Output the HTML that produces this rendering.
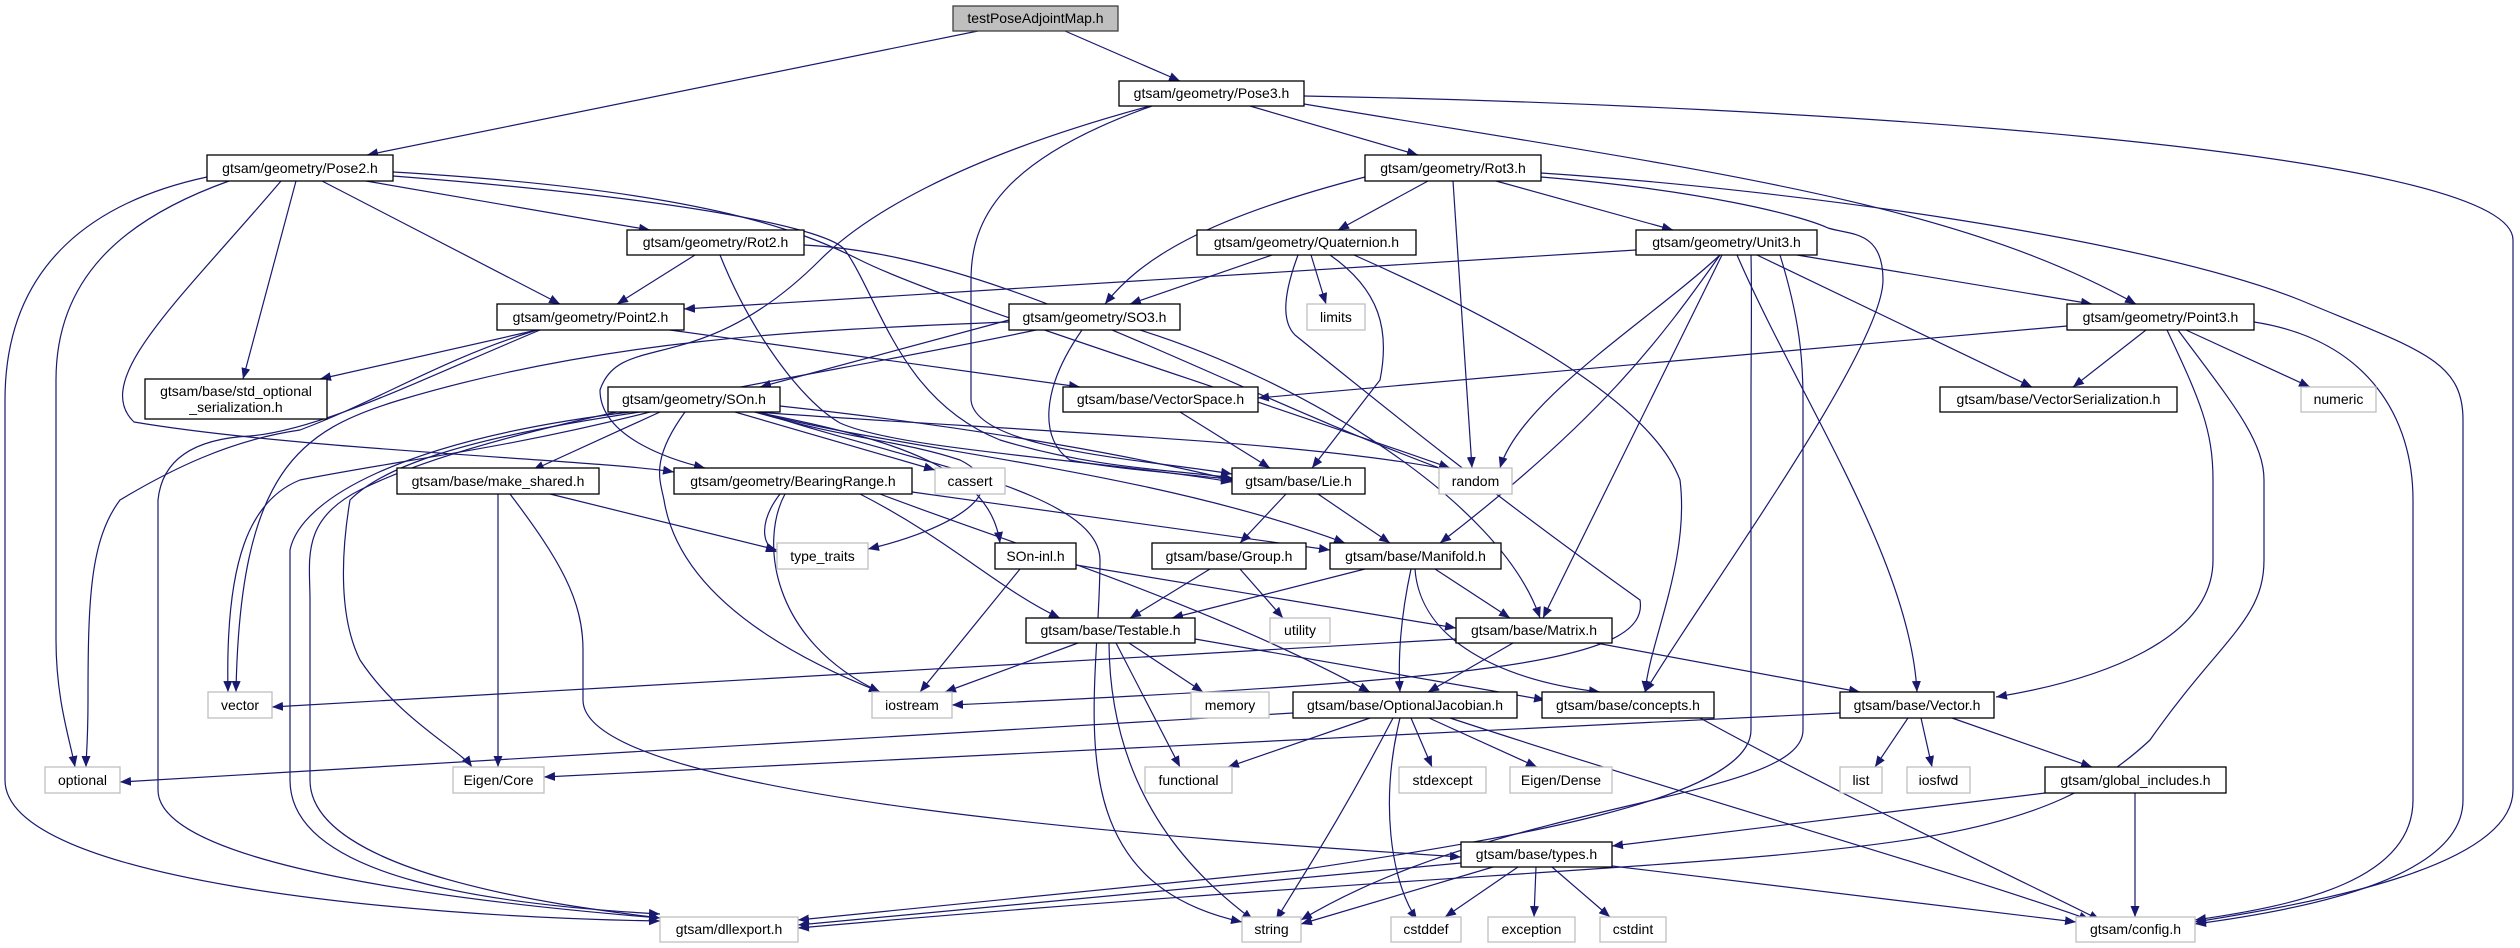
<!DOCTYPE html>
<html><head><meta charset="utf-8"><style>
html,body{margin:0;padding:0;background:#fff;}
svg{display:block;}
text{font-family:"Liberation Sans",sans-serif;font-size:14px;fill:#000;}
.n{fill:#fff;stroke:#000;stroke-width:1.3;}
.g{fill:#fff;stroke:#bfbfbf;stroke-width:1.3;}
.e{fill:none;stroke:#191970;stroke-width:1.2;marker-end:url(#a);}
.gt{fill:#555;}
</style></head><body>
<svg width="2520" height="948" viewBox="0 0 2520 948" xmlns="http://www.w3.org/2000/svg">
<defs><marker id="a" markerUnits="userSpaceOnUse" markerWidth="12" markerHeight="9" refX="11" refY="4.5" orient="auto"><path d="M0,0 L11,4.5 L0,9 z" fill="#191970"/></marker></defs>

<!-- edges -->
<path class="e" d="M978,31 L367,155"/>
<path class="e" d="M1065,31 L1180,81"/>
<path class="e" d="M1250,106 L1418,155"/>
<path class="e" d="M1304,104 C1700,170 1950,200 2136,304"/>
<path class="e" d="M1304,96 C1800,105 2513,150 2513,240 L2513,790 C2513,870 2300,905 2195,922"/>
<path class="e" d="M1150,106 C950,160 860,220 820,260 C700,380 620,330 600,390 C600,440 680,462 705,468"/>
<path class="e" d="M1152,106 C1000,160 971,220 971,280 L971,400 C975,450 1150,460 1232,474"/>
<path class="e" d="M1428,181 L1338,230"/>
<path class="e" d="M1365,177 C1200,220 1140,260 1105,304"/>
<path class="e" d="M1453,181 L1472,468"/>
<path class="e" d="M1496,181 L1673,230"/>
<path class="e" d="M1541,177 C1700,190 1800,215 1828,228 C1850,235 1883,230 1883,280 C1883,350 1700,600 1645,692"/>
<path class="e" d="M1541,173 C1800,190 2150,240 2300,300 C2420,350 2463,360 2463,420 L2463,800 C2463,880 2300,910 2195,924"/>
<path class="e" d="M1272,255 L1130,304"/>
<path class="e" d="M1311,255 L1326,304"/>
<path class="e" d="M1330,255 C1380,290 1390,330 1380,380 L1312,468"/>
<path class="e" d="M1298,255 C1285,290 1280,320 1295,335 C1400,420 1500,500 1640,600 C1650,660 1500,680 952,705"/>
<path class="e" d="M1354,255 C1500,320 1650,400 1680,480 C1690,560 1650,640 1645,692"/>

<path class="e" d="M207,177 C100,200 5,260 5,400 L5,780 C5,880 400,917 660,921"/>
<path class="e" d="M229,181 C120,220 56,280 56,380 L56,640 C56,700 70,740 75,767"/>
<path class="e" d="M296,181 L243,379"/>
<path class="e" d="M322,181 L560,304"/>
<path class="e" d="M366,181 L650,230"/>
<path class="e" d="M281,181 C180,300 90,380 134,422 C300,450 600,460 674,472"/>
<path class="e" d="M393,172 C700,190 800,230 860,260 C940,300 1200,380 1450,468"/>
<path class="e" d="M393,176 C700,200 830,230 845,250 C880,300 900,400 1000,440 C1100,470 1180,470 1232,478"/>

<path class="e" d="M695,255 L617,304"/>
<path class="e" d="M720,255 C750,330 800,400 840,423 C900,450 1100,460 1232,482"/>
<path class="e" d="M804,245 C1000,255 1200,380 1450,472"/>

<path class="e" d="M537,330 L320,379"/>
<path class="e" d="M537,330 C440,360 380,400 300,430 C230,440 170,470 120,500 C90,540 88,600 88,700 C88,740 86,760 86,767"/>
<path class="e" d="M670,330 L1080,387"/>
<path class="e" d="M540,330 C420,380 320,430 250,436 C170,440 160,480 158,500 L158,790 C158,870 500,905 660,918"/>

<path class="e" d="M1636,250 L684,309"/>
<path class="e" d="M1797,255 L2092,304"/>
<path class="e" d="M1757,255 L2032,387"/>
<path class="e" d="M1720,255 C1650,320 1520,400 1500,468"/>
<path class="e" d="M1720,255 C1660,340 1600,420 1440,543"/>
<path class="e" d="M1722,255 L1543,618"/>
<path class="e" d="M1737,255 C1800,400 1910,560 1917,692"/>
<path class="e" d="M1751,255 C1752,300 1751,350 1751,400 L1751,730 C1751,800 1500,840 1300,870 C1000,900 850,915 798,920"/>
<path class="e" d="M1780,255 C1800,320 1803,360 1803,400 L1803,730 C1803,800 1500,800 1301,920"/>

<path class="e" d="M2067,326 L1258,398"/>
<path class="e" d="M2146,330 L2073,387"/>
<path class="e" d="M2186,330 L2310,387"/>
<path class="e" d="M2167,330 C2200,400 2213,430 2213,480 L2213,560 C2213,640 2100,680 1996,697"/>
<path class="e" d="M2178,330 C2230,400 2264,440 2264,480 L2264,560 C2264,620 2220,640 2150,740 C2000,880 1800,840 798,928"/>
<path class="e" d="M2254,322 C2370,340 2413,420 2413,500 L2413,800 C2413,880 2300,905 2195,920"/>

<path class="e" d="M1009,320 L760,387"/>
<path class="e" d="M1082,330 C1040,390 1040,440 1070,460 C1120,470 1200,475 1235,480"/>
<path class="e" d="M1140,330 C1300,380 1500,500 1540,618"/>
<path class="e" d="M1009,322 C800,330 600,340 400,400 C300,430 240,470 236,692"/>
<path class="e" d="M1036,330 C800,380 500,420 360,490 C300,520 310,560 310,600 L310,780 C310,880 600,910 660,918"/>

<path class="e" d="M1180,412 L1270,468"/>
<path class="e" d="M1286,494 L1240,543"/>
<path class="e" d="M1318,494 L1390,543"/>

<path class="e" d="M780,406 C1000,430 1150,460 1232,480"/>
<path class="e" d="M755,412 C900,450 1150,470 1345,543"/>
<path class="e" d="M755,412 C1000,430 1300,440 1450,470"/>
<path class="e" d="M735,412 L935,470"/>
<path class="e" d="M755,412 C850,440 900,440 960,460 C1020,490 950,530 868,549"/>
<path class="e" d="M755,412 C900,440 990,470 1000,543"/>
<path class="e" d="M685,412 C650,460 660,480 664,500 C680,600 800,660 880,692"/>
<path class="e" d="M650,412 C500,450 400,460 300,480 C250,500 225,560 228,692"/>
<path class="e" d="M640,412 C450,440 380,470 350,500 C340,560 340,620 360,660 C400,720 460,750 472,767"/>
<path class="e" d="M630,412 C400,440 300,500 290,550 L290,780 C290,880 500,905 660,914"/>
<path class="e" d="M660,412 L533,470"/>
<path class="e" d="M760,412 C900,460 1100,490 1100,560 C1100,700 1050,880 1242,922"/>

<path class="e" d="M912,492 L1330,550"/>
<path class="e" d="M860,494 C950,540 1000,590 1060,618"/>
<path class="e" d="M880,494 C1000,540 1200,600 1370,692"/>
<path class="e" d="M785,494 C760,540 770,640 880,692"/>
<path class="e" d="M780,494 C760,520 760,545 777,552"/>

<path class="e" d="M550,494 L777,550"/>
<path class="e" d="M498,494 L498,767"/>
<path class="e" d="M510,494 C560,560 583,600 583,650 L583,700 C583,800 1200,840 1461,857"/>

<path class="e" d="M1020,569 L920,692"/>
<path class="e" d="M1076,565 L1456,628"/>
<path class="e" d="M1210,569 L1130,618"/>
<path class="e" d="M1240,569 L1283,618"/>
<path class="e" d="M1365,569 L1172,618"/>
<path class="e" d="M1435,569 L1510,618"/>
<path class="e" d="M1411,569 C1400,620 1398,660 1400,692"/>
<path class="e" d="M1415,569 C1420,640 1500,680 1600,692"/>

<path class="e" d="M1078,643 L945,692"/>
<path class="e" d="M1129,643 L1203,692"/>
<path class="e" d="M1116,643 L1180,767"/>
<path class="e" d="M1109,643 C1110,800 1200,880 1253,920"/>
<path class="e" d="M1195,639 L1545,700"/>

<path class="e" d="M1513,643 L1428,692"/>
<path class="e" d="M1596,643 L1860,692"/>
<path class="e" d="M1456,639 L272,707"/>

<path class="e" d="M1370,718 L1228,767"/>
<path class="e" d="M1393,718 C1340,820 1300,880 1276,920"/>
<path class="e" d="M1400,718 C1380,800 1390,880 1417,920"/>
<path class="e" d="M1411,718 L1432,767"/>
<path class="e" d="M1429,718 L1537,767"/>
<path class="e" d="M1293,713 L120,782"/>
<path class="e" d="M1450,718 C1700,800 1950,870 2090,920"/>
<path class="e" d="M1700,718 C1850,800 2000,870 2100,920"/>

<path class="e" d="M1840,713 L544,777"/>
<path class="e" d="M1908,718 L1875,767"/>
<path class="e" d="M1921,718 L1932,767"/>
<path class="e" d="M1952,718 L2092,767"/>
<path class="e" d="M2045,793 L1612,846"/>
<path class="e" d="M2135,793 L2135,917"/>

<path class="e" d="M1461,863 L798,925"/>
<path class="e" d="M1493,867 L1301,924"/>
<path class="e" d="M1518,867 L1445,917"/>
<path class="e" d="M1536,867 L1534,917"/>
<path class="e" d="M1552,867 L1610,917"/>
<path class="e" d="M1612,866 L2076,922"/>

<!-- nodes -->
<rect x="953" y="6" width="165" height="25" fill="#bfbfbf" stroke="#404040" stroke-width="1.3"/><text x="1035.5" y="23" text-anchor="middle">testPoseAdjointMap.h</text>
<g text-anchor="middle">
<rect class="n" x="1119" y="81" width="185" height="25"/><text x="1211.5" y="98">gtsam/geometry/Pose3.h</text>
<rect class="n" x="207" y="155" width="186" height="26"/><text x="300" y="173">gtsam/geometry/Pose2.h</text>
<rect class="n" x="1365" y="155" width="176" height="26"/><text x="1453" y="173">gtsam/geometry/Rot3.h</text>
<rect class="n" x="627" y="230" width="177" height="25"/><text x="715.5" y="247">gtsam/geometry/Rot2.h</text>
<rect class="n" x="1197" y="230" width="219" height="25"/><text x="1306.5" y="247">gtsam/geometry/Quaternion.h</text>
<rect class="n" x="1636" y="230" width="181" height="25"/><text x="1726.5" y="247">gtsam/geometry/Unit3.h</text>
<rect class="n" x="497" y="304" width="187" height="26"/><text x="590.5" y="322">gtsam/geometry/Point2.h</text>
<rect class="n" x="1009" y="304" width="171" height="26"/><text x="1094.5" y="322">gtsam/geometry/SO3.h</text>
<rect class="g" x="1307" y="304" width="58" height="26"/><text x="1336" y="322">limits</text>
<rect class="n" x="2067" y="304" width="187" height="26"/><text x="2160.5" y="322">gtsam/geometry/Point3.h</text>
<rect class="n" x="145" y="379" width="182" height="40"/><text x="236" y="396">gtsam/base/std_optional</text><text x="236" y="412">_serialization.h</text>
<rect class="n" x="608" y="387" width="172" height="25"/><text x="694" y="404">gtsam/geometry/SOn.h</text>
<rect class="n" x="1063" y="387" width="195" height="25"/><text x="1160.5" y="404">gtsam/base/VectorSpace.h</text>
<rect class="n" x="1940" y="387" width="237" height="25"/><text x="2058.5" y="404">gtsam/base/VectorSerialization.h</text>
<rect class="g" x="2301" y="387" width="75" height="25"/><text x="2338.5" y="404">numeric</text>
<rect class="n" x="397" y="468" width="202" height="26"/><text x="498" y="486">gtsam/base/make_shared.h</text>
<rect class="n" x="674" y="468" width="238" height="26"/><text x="793" y="486">gtsam/geometry/BearingRange.h</text>
<rect class="g" x="935" y="468" width="70" height="26"/><text x="970" y="486">cassert</text>
<rect class="n" x="1232" y="468" width="133" height="26"/><text x="1298.5" y="486">gtsam/base/Lie.h</text>
<rect class="g" x="1439" y="468" width="73" height="26"/><text x="1475.5" y="486">random</text>
<rect class="g" x="777" y="543" width="91" height="26"/><text x="822.5" y="561">type_traits</text>
<rect class="n" x="995" y="543" width="81" height="26"/><text x="1035.5" y="561">SOn-inl.h</text>
<rect class="n" x="1152" y="543" width="154" height="26"/><text x="1229" y="561">gtsam/base/Group.h</text>
<rect class="n" x="1330" y="543" width="171" height="26"/><text x="1415.5" y="561">gtsam/base/Manifold.h</text>
<rect class="n" x="1026" y="618" width="169" height="25"/><text x="1110.5" y="635">gtsam/base/Testable.h</text>
<rect class="g" x="1270" y="618" width="60" height="25"/><text x="1300" y="635">utility</text>
<rect class="n" x="1456" y="618" width="156" height="25"/><text x="1534" y="635">gtsam/base/Matrix.h</text>
<rect class="g" x="208" y="692" width="64" height="26"/><text x="240" y="710">vector</text>
<rect class="g" x="872" y="692" width="80" height="26"/><text x="912" y="710">iostream</text>
<rect class="g" x="1191" y="692" width="78" height="26"/><text x="1230" y="710">memory</text>
<rect class="n" x="1293" y="692" width="224" height="26"/><text x="1405" y="710">gtsam/base/OptionalJacobian.h</text>
<rect class="n" x="1542" y="692" width="172" height="26"/><text x="1628" y="710">gtsam/base/concepts.h</text>
<rect class="n" x="1840" y="692" width="154" height="26"/><text x="1917" y="710">gtsam/base/Vector.h</text>
<rect class="g" x="45" y="767" width="75" height="26"/><text x="82.5" y="785">optional</text>
<rect class="g" x="453" y="767" width="91" height="26"/><text x="498.5" y="785">Eigen/Core</text>
<rect class="g" x="1145" y="767" width="87" height="26"/><text x="1188.5" y="785">functional</text>
<rect class="g" x="1399" y="767" width="87" height="26"/><text x="1442.5" y="785">stdexcept</text>
<rect class="g" x="1510" y="767" width="102" height="26"/><text x="1561" y="785">Eigen/Dense</text>
<rect class="g" x="1840" y="767" width="42" height="26"/><text x="1861" y="785">list</text>
<rect class="g" x="1907" y="767" width="63" height="26"/><text x="1938.5" y="785">iosfwd</text>
<rect class="n" x="2045" y="767" width="181" height="26"/><text x="2135.5" y="785">gtsam/global_includes.h</text>
<rect class="n" x="1461" y="842" width="151" height="25"/><text x="1536.5" y="859">gtsam/base/types.h</text>
<rect class="g" x="660" y="917" width="138" height="25"/><text x="729" y="934">gtsam/dllexport.h</text>
<rect class="g" x="1242" y="917" width="59" height="25"/><text x="1271.5" y="934">string</text>
<rect class="g" x="1391" y="917" width="70" height="25"/><text x="1426" y="934">cstddef</text>
<rect class="g" x="1488" y="917" width="87" height="25"/><text x="1531.5" y="934">exception</text>
<rect class="g" x="1600" y="917" width="66" height="25"/><text x="1633" y="934">cstdint</text>
<rect class="g" x="2076" y="917" width="119" height="25"/><text x="2135.5" y="934">gtsam/config.h</text>
</g>
</svg>
</body></html>
